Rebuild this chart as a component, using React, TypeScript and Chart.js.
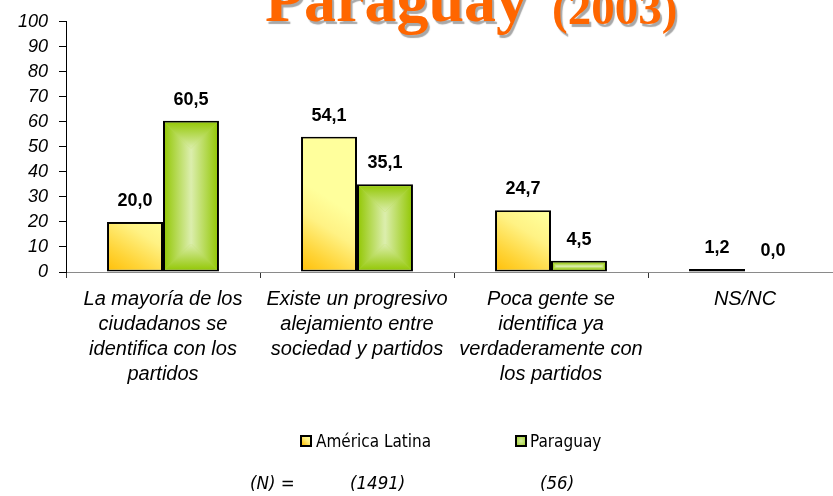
import React, { useEffect, useRef } from "react";
import { Chart, registerables } from "chart.js";

Chart.register(...registerables);

const categories: string[][] = [
  ["La mayoría de los", "ciudadanos se", "identifica con los", "partidos"],
  ["Existe un progresivo", "alejamiento entre", "sociedad y partidos"],
  ["Poca gente se", "identifica ya", "verdaderamente con", "los partidos"],
  ["NS/NC"],
];
const seriesNames = ["América Latina", "Paraguay"];
const americaLatina = [20.0, 54.1, 24.7, 1.2];
const paraguay = [60.5, 35.1, 4.5, 0.0];
const yMin = 0;
const yMax = 100;
const yStep = 10;
const titleMain = "Paraguay";
const titleYear = "(2003)";
const nLabel = "(N) =";
const nValues = ["(1491)", "(56)"];

const SANS = '"Liberation Sans", Arial, sans-serif';
const NARROW = '"DejaVu Sans Condensed", "DejaVu Sans", sans-serif';
const SERIF = '"Liberation Serif", "Times New Roman", serif';

const fmt = (v: number) => v.toFixed(1).replace(".", ",");

const barStylePlugin = {
  id: "barStyle",
  afterDatasetDraw(chart: any, args: any) {
    const ctx = chart.ctx;
    const meta = args.meta;
    const idx = args.index;
    const bw = 2;
    meta.data.forEach((el: any) => {
      const { x, y, base, width } = el.getProps(["x", "y", "base", "width"], true);
      const left = x - width / 2 + bw;
      const right = x + width / 2 - bw;
      const top = Math.min(y, base) + bw;
      const bottom = Math.max(y, base) - bw;
      const w = right - left;
      const h = bottom - top;
      if (w <= 0 || h <= 0) return;
      ctx.save();
      if (idx === 0) {
        const g = ctx.createLinearGradient(left, bottom, left + 40, bottom - 62);
        g.addColorStop(0, "#FFC20E");
        g.addColorStop(0.25, "#FFD437");
        g.addColorStop(0.65, "#FFF284");
        g.addColorStop(1, "#FFFF9C");
        ctx.fillStyle = g;
        ctx.fillRect(left, top, w, h);
      } else {
        const m = Math.min(w, h) / 2;
        const edge = "#96C90C";
        const center = "#DCEEAE";
        const poly = (pts: number[][], g: CanvasGradient) => {
          ctx.beginPath();
          ctx.moveTo(pts[0][0], pts[0][1]);
          for (let i = 1; i < pts.length; i++) ctx.lineTo(pts[i][0], pts[i][1]);
          ctx.closePath();
          ctx.fillStyle = g;
          ctx.fill();
        };
        const mk = (x0: number, y0: number, x1: number, y1: number) => {
          const g = ctx.createLinearGradient(x0, y0, x1, y1);
          g.addColorStop(0, edge);
          g.addColorStop(1, center);
          return g;
        };
        poly([[left, top], [left + m, top + m], [left + m, bottom - m], [left, bottom]], mk(left, 0, left + m, 0));
        poly([[right, top], [right - m, top + m], [right - m, bottom - m], [right, bottom]], mk(right, 0, right - m, 0));
        poly([[left, top], [right, top], [right - m, top + m], [left + m, top + m]], mk(0, top, 0, top + m));
        poly([[left, bottom], [right, bottom], [right - m, bottom - m], [left + m, bottom - m]], mk(0, bottom, 0, bottom - m));
        if (w > 2 * m + 0.5) {
          ctx.fillStyle = center;
          ctx.fillRect(left + m, top + m, w - 2 * m, Math.max(h - 2 * m, 0.5));
        }
      }
      ctx.restore();
    });
  },
};

const valueLabelPlugin = {
  id: "valueLabels",
  afterDatasetsDraw(chart: any) {
    const ctx = chart.ctx;
    ctx.save();
    ctx.font = `bold 18px ${SANS}`;
    ctx.fillStyle = "#000";
    ctx.textAlign = "center";
    ctx.textBaseline = "middle";
    chart.data.datasets.forEach((ds: any, di: number) => {
      const meta = chart.getDatasetMeta(di);
      meta.data.forEach((el: any, i: number) => {
        ctx.fillText(fmt(ds.data[i]), el.x, el.y - 21);
      });
    });
    ctx.restore();
  },
};

export default function App() {
  const ref = useRef<HTMLCanvasElement>(null);

  useEffect(() => {
    if (!ref.current) return;
    const chart = new Chart(ref.current, {
      type: "bar",
      data: {
        labels: categories,
        datasets: [
          {
            label: seriesNames[0],
            data: americaLatina,
            backgroundColor: "#FFF07A",
            borderColor: "#000",
            borderWidth: 2,
            borderSkipped: false,
          },
          {
            label: seriesNames[1],
            data: paraguay,
            backgroundColor: "#B5DB4A",
            borderColor: "#000",
            borderWidth: 2,
            borderSkipped: false,
          },
        ],
      },
      options: {
        responsive: false,
        animation: false,
        devicePixelRatio: 1,
        layout: { padding: { top: 20, right: 18, left: 0, bottom: 0 } },
        datasets: { bar: { categoryPercentage: 0.577, barPercentage: 1 } },
        plugins: {
          legend: { display: false },
          title: { display: false },
          tooltip: { enabled: false },
        },
        scales: {
          x: {
            grid: { drawOnChartArea: false, tickLength: 6, color: "#333", offset: true },
            border: { color: "#8a8a8a", width: 1 },
            ticks: {
              color: "#000",
              font: { family: SANS, size: 20, style: "italic", lineHeight: "25px" },
              padding: 9,
              maxRotation: 0,
              minRotation: 0,
              autoSkip: false,
            },
            afterFit(scale: any) {
              scale.height = 224;
            },
          },
          y: {
            min: yMin,
            max: yMax,
            grid: { drawOnChartArea: false, tickLength: 7, color: "#000" },
            border: { color: "#000", width: 1 },
            ticks: {
              stepSize: yStep,
              color: "#000",
              font: { family: SANS, size: 18, style: "italic" },
              padding: 11,
            },
            afterFit(scale: any) {
              scale.width = 66;
            },
          },
        },
      },
      plugins: [barStylePlugin, valueLabelPlugin],
    });
    return () => chart.destroy();
  }, []);

  const titleBase: React.CSSProperties = {
    position: "absolute",
    fontFamily: SERIF,
    fontWeight: "bold",
    color: "#FF6600",
    lineHeight: 1,
    whiteSpace: "nowrap",
    textShadow: "2px 3px 1px #A8A8A8",
  };
  const narrowText: React.CSSProperties = {
    position: "absolute",
    fontFamily: NARROW,
    fontStretch: "condensed",
    fontSize: 17,
    lineHeight: "20px",
    color: "#000",
    whiteSpace: "nowrap",
  };
  const nText: React.CSSProperties = { ...narrowText, fontStyle: "italic", fontSize: 18.5, top: 473 };
  const box: React.CSSProperties = {
    position: "absolute",
    width: 8,
    height: 8,
    border: "2px solid #000",
  };

  return (
    <div
      style={{
        position: "fixed",
        left: 0,
        top: 0,
        width: 833,
        height: 496,
        overflow: "hidden",
        background: "#fff",
      }}
    >
      <canvas
        ref={ref}
        width={860}
        height={496}
        style={{ position: "absolute", left: 0, top: 0, width: 860, height: 496 }}
      />
      <span style={{ ...titleBase, fontSize: 64, left: 265, top: -32 }}>{titleMain}</span>
      <span style={{ ...titleBase, fontSize: 47, left: 552, top: -15 }}>{titleYear}</span>

      <div style={{ ...box, left: 300, top: 435, background: "linear-gradient(45deg, #FFC000, #FFEE80 60%, #FFFF99)" }} />
      <span style={{ ...narrowText, left: 316, top: 431 }}>{seriesNames[0]}</span>
      <div style={{ ...box, left: 515, top: 435, background: "radial-gradient(#D4EBA0, #A6D23A)" }} />
      <span style={{ ...narrowText, left: 530, top: 431 }}>{seriesNames[1]}</span>

      <span style={{ ...nText, left: 250 }}>{nLabel}</span>
      <span style={{ ...nText, left: 350 }}>{nValues[0]}</span>
      <span style={{ ...nText, left: 540 }}>{nValues[1]}</span>
    </div>
  );
}
